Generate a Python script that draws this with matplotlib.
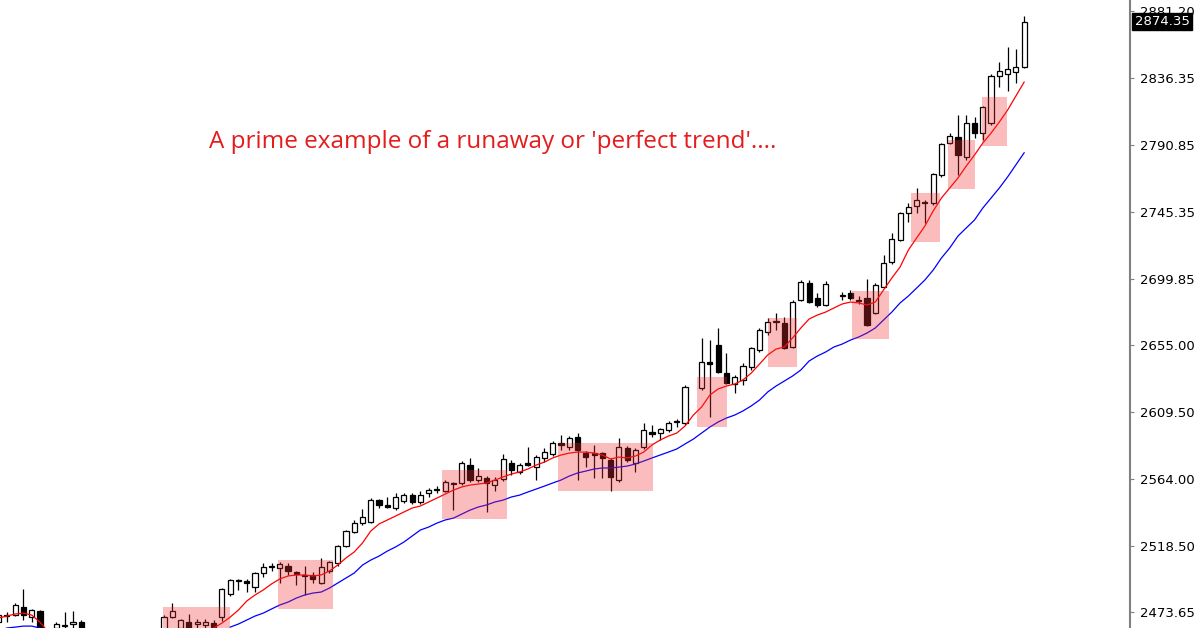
import numpy as np
import matplotlib.pyplot as plt
import matplotlib.transforms as mtransforms
from matplotlib.patches import Rectangle

# OHLC daily bars (None = bar outside the visible window)
N = None
opens = ([2466.8, 2471.6, 2471.6, 2477.0, 2470.2, 2474.3, N, 2462.8, 2464.8, 2465.5, 2466.8] + [N] * 9 +
         [2461.4, 2470.2, 2462.8, 2466.8, 2465.5, 2464.8, 2466.1, 2470.2, 2485.9, 2494.7,
          2494.7, 2490.6, 2500.1, 2504.2, 2503.5, 2504.8, 2500.8, 2498.8, 2498.8, 2493.4,
          2501.5, 2506.9, 2518.4, 2527.9, 2534.0, 2534.7, 2549.6, 2546.3, 2544.2, 2549.0,
          2553.0, 2548.3, 2554.4, 2556.4, 2555.8, 2561.2, 2561.2, 2573.4, 2563.2, 2564.6,
          2559.8, 2563.9, 2574.8, 2568.7, 2574.8, 2572.0, 2578.2, 2580.9, 2588.3, 2585.6,
          2592.4, 2581.5, 2581.5, 2581.5, 2576.8, 2563.2, 2584.9, 2574.8, 2585.6, 2595.8,
          2595.1, 2597.2, 2602.6, 2601.9, N, 2625.7, 2643.3, 2654.8, 2635.8, 2628.4,
          2631.1, 2639.9, 2651.5, 2663.7, 2670.5, 2669.8, 2653.5, 2685.4, 2696.9, 2686.7,
          2682.0, N, 2688.1, 2690.1, 2685.4, 2686.7, 2676.6, 2694.2, 2711.2, 2726.1,
          2744.4, 2749.2, 2751.2, 2751.2, 2770.2, 2791.9, 2796.0, 2782.4, 2805.5, 2798.7,
          2805.5, 2837.4, 2838.8, 2840.1, 2843.5])
highs = ([2472.9, 2473.6, 2479.7, 2489.3, 2475.7, 2475.0, N, 2466.8, 2473.6, 2474.3, 2468.2] + [N] * 9 +
         [2471.6, 2479.7, 2468.9, 2472.3, 2468.9, 2468.9, 2468.2, 2490.0, 2496.1, 2496.1,
          2496.1, 2500.8, 2506.9, 2506.9, 2507.6, 2506.9, 2501.5, 2504.8, 2500.8, 2510.3,
          2508.2, 2519.1, 2529.3, 2536.1, 2543.5, 2551.0, 2550.3, 2551.7, 2554.4, 2554.4,
          2554.4, 2555.8, 2557.8, 2559.1, 2563.2, 2561.9, 2576.1, 2578.2, 2571.4, 2565.9,
          2565.3, 2580.9, 2576.8, 2574.8, 2585.6, 2580.2, 2584.9, 2589.7, 2593.8, 2593.1,
          2595.1, 2582.9, 2587.0, 2582.2, 2578.2, 2591.7, 2586.3, 2584.9, 2601.9, 2600.6,
          2598.5, 2603.3, 2604.6, 2627.7, N, 2659.6, 2658.2, 2666.4, 2649.4, 2634.5,
          2642.6, 2653.5, 2666.4, 2673.2, 2676.6, 2673.9, 2685.4, 2699.0, 2699.0, 2690.1,
          2698.3, N, 2690.8, 2692.2, 2688.1, 2699.7, 2696.9, 2715.9, 2730.9, 2745.1,
          2751.2, 2761.4, 2753.3, 2771.6, 2791.9, 2798.7, 2810.9, 2810.9, 2809.6, 2817.1,
          2838.8, 2846.9, 2857.1, 2855.7, 2878.2])
lows = ([2462.8, 2466.8, 2470.9, 2468.2, 2466.8, 2460.1, N, 2461.4, 2461.4, 2462.8, 2459.4] + [N] * 9 +
        [2460.1, 2469.6, 2461.4, 2461.4, 2462.8, 2462.8, 2462.1, 2467.5, 2484.5, 2488.6,
         2487.3, 2487.3, 2497.4, 2501.5, 2493.4, 2498.8, 2492.0, 2485.2, 2493.4, 2492.7,
         2500.1, 2504.8, 2517.8, 2527.3, 2532.7, 2534.0, 2544.2, 2544.2, 2542.8, 2547.6,
         2546.9, 2546.9, 2551.7, 2554.4, 2555.1, 2542.8, 2559.8, 2561.9, 2561.9, 2541.5,
         2555.8, 2562.5, 2566.6, 2567.3, 2572.7, 2563.2, 2575.4, 2579.5, 2583.6, 2583.6,
         2563.2, 2572.0, 2564.6, 2564.6, 2555.8, 2561.9, 2575.4, 2568.7, 2584.3, 2592.4,
         2590.4, 2595.8, 2599.2, 2600.5, N, 2624.3, 2606.0, 2635.8, 2628.4, 2622.3,
         2627.7, 2637.9, 2650.1, 2661.6, 2665.0, 2652.1, 2652.8, 2684.7, 2683.4, 2680.6,
         2681.3, N, 2685.4, 2685.4, 2683.0, 2667.7, 2675.9, 2693.5, 2709.8, 2725.4,
         2738.3, 2744.4, 2737.6, 2749.9, 2768.9, 2791.3, 2770.2, 2780.4, 2795.3, 2794.0,
         2804.2, 2830.0, 2827.2, 2832.7, 2842.8])
closes = ([2471.6, 2471.2, 2478.4, 2471.6, 2475.0, 2461.4, N, 2465.5, 2464.1, 2466.8, 2461.4] + [N] * 9 +
          [2470.2, 2474.3, 2468.2, 2462.8, 2466.8, 2466.8, 2463.4, 2489.3, 2495.4, 2495.4,
           2493.4, 2500.1, 2504.2, 2504.8, 2506.2, 2501.5, 2499.4, 2498.1, 2496.1, 2504.2,
           2507.6, 2518.4, 2528.6, 2534.0, 2538.1, 2549.6, 2546.3, 2544.9, 2551.7, 2553.0,
           2548.3, 2553.0, 2556.4, 2557.1, 2561.9, 2560.5, 2574.8, 2563.2, 2565.9, 2561.2,
           2563.2, 2577.5, 2570.0, 2573.4, 2573.4, 2578.8, 2582.2, 2588.3, 2587.0, 2591.7,
           2583.6, 2578.8, 2580.2, 2578.2, 2565.3, 2585.6, 2576.8, 2583.6, 2597.2, 2594.4,
           2597.8, 2601.9, 2603.3, 2626.3, N, 2643.3, 2642.0, 2636.5, 2629.1, 2633.1,
           2640.6, 2652.8, 2665.0, 2670.5, 2671.1, 2652.8, 2684.0, 2697.6, 2684.0, 2682.0,
           2696.3, N, 2688.8, 2686.7, 2684.7, 2668.4, 2695.6, 2710.5, 2726.8, 2744.4,
           2748.5, 2753.3, 2751.9, 2770.9, 2791.3, 2796.7, 2783.8, 2805.5, 2798.7, 2816.4,
           2837.4, 2840.8, 2842.2, 2843.5, 2874.35])

# moving averages as drawn on the chart
ma_fast = ([2469.6, 2470.9, 2472.3, 2472.9, 2471.6, 2466.8, 2460.1] + [N] * 19 +
           [2462.8, 2466.1, 2470.2, 2475.0, 2481.1, 2485.2, 2488.6, 2492.7, 2496.1, 2498.1,
            2498.8, 2498.8, 2498.1, 2498.8, 2501.5, 2505.5, 2510.3, 2514.4, 2520.5, 2528.6,
            2533.4, 2536.1, 2538.8, 2541.5, 2544.2, 2545.6, 2548.3, 2551.0, 2553.7, 2556.4,
            2558.5, 2559.8, 2560.5, 2561.2, 2563.2, 2565.3, 2567.3, 2568.7, 2570.7, 2573.4,
            2575.4, 2578.2, 2580.2, 2581.5, 2582.2, 2582.2, 2581.5, 2580.2, 2577.5, 2578.8,
            2578.2, 2579.5, 2582.2, 2587.0, 2590.4, 2593.1, 2595.1, 2599.9, 2607.3, 2612.8,
            2620.9, 2625.0, 2627.0, 2628.4, 2631.1, 2635.8, 2641.9, 2648.1, 2652.1, 2653.5,
            2659.6, 2666.4, 2672.5, 2675.2, 2677.2, 2680.0, 2682.7, 2684.0, 2683.4, 2682.0,
            2684.0, 2692.2, 2700.3, 2707.8, 2719.3, 2727.5, 2735.6, 2745.8, 2754.6, 2761.4,
            2768.2, 2776.3, 2783.8, 2791.9, 2798.7, 2806.2, 2814.3, 2823.8, 2833.3])
ma_slow = ([2460.7, 2462.8, 2463.4, 2464.1, 2464.1, 2462.8, 2459.4] + [N] * 21 +
           [2463.4, 2465.5, 2468.2, 2470.9, 2472.9, 2475.7, 2478.4, 2480.4, 2483.1, 2485.2,
            2486.5, 2487.2, 2489.9, 2493.3, 2496.7, 2500.1, 2505.5, 2508.9, 2511.6, 2515.0,
            2517.8, 2521.1, 2525.2, 2529.3, 2531.3, 2534.0, 2536.1, 2537.4, 2540.1, 2542.8,
            2544.9, 2546.3, 2548.3, 2549.6, 2551.7, 2553.0, 2555.1, 2557.1, 2559.1, 2561.2,
            2563.2, 2565.9, 2568.0, 2569.3, 2570.7, 2571.4, 2571.4, 2572.0, 2572.7, 2574.1,
            2576.1, 2578.2, 2580.2, 2582.2, 2584.3, 2587.7, 2591.0, 2595.1, 2599.2, 2602.6,
            2605.3, 2607.3, 2610.1, 2613.5, 2617.5, 2623.0, 2627.0, 2630.4, 2633.8, 2637.9,
            2644.0, 2647.4, 2650.1, 2653.5, 2655.5, 2658.2, 2660.3, 2663.0, 2666.4, 2671.8,
            2677.2, 2683.4, 2688.1, 2693.5, 2699.0, 2705.7, 2713.9, 2720.7, 2728.8, 2734.3,
            2739.7, 2747.8, 2754.6, 2761.4, 2768.9, 2777.1, 2785.3])

# highlighted pullback zones: bar range and price range
zone_start = [19.9, 33.8, 53.6, 67.6, 84.4, 93.0, 103.2, 110.3, 114.8, 118.9]
zone_end = [28.0, 40.4, 61.5, 79.1, 88.1, 96.5, 107.7, 113.8, 118.1, 121.9]
zone_low = [2455.0, 2475.7, 2536.8, 2555.8, 2599.2, 2639.9, 2658.9, 2724.8, 2760.7, 2789.9]
zone_high = [2477.0, 2508.9, 2570.0, 2588.3, 2633.1, 2673.2, 2691.5, 2758.0, 2794.0, 2823.2]

price_ticks = [2473.65, 2518.50, 2564.00, 2609.50, 2655.00, 2699.85, 2745.35, 2790.85, 2836.35, 2881.20]

o = np.array(opens, dtype=float)
h = np.array(highs, dtype=float)
l = np.array(lows, dtype=float)
c = np.array(closes, dtype=float)
x = np.arange(len(o))

fig = plt.figure(figsize=(12, 6.28), dpi=100)
ax = fig.add_axes([0, 0, 1130 / 1200, 1])

# wicks then bodies
ax.vlines(x, l, h, color='black', linewidth=0.9, zorder=1)
bull = c >= o
body_bot = np.minimum(o, c)
body_h = np.abs(c - o)
ax.bar(x[bull], body_h[bull], bottom=body_bot[bull], width=0.62,
       facecolor='white', edgecolor='black', linewidth=0.9, zorder=2)
ax.bar(x[~bull], body_h[~bull], bottom=body_bot[~bull], width=0.62,
       facecolor='black', edgecolor='black', linewidth=0.9, zorder=2)

ax.plot(x, np.array(ma_fast, dtype=float), color='#ff0000', linewidth=0.9, zorder=3)
ax.plot(x, np.array(ma_slow, dtype=float), color='#0000ff', linewidth=0.9, zorder=3)

for x0, x1, lo, hi in zip(zone_start, zone_end, zone_low, zone_high):
    ax.add_patch(Rectangle((x0, lo), x1 - x0, hi - lo, facecolor='#f03030',
                           alpha=0.32, edgecolor='none', zorder=5))

ax.text(0.436, 0.774, "A prime example of a runaway or 'perfect trend'....",
        transform=ax.transAxes, ha='center', va='center', color='#e41c1c',
        fontsize=17.5, family='Open Sans')

ax.set_xlim(0.17, 136.8)
ax.set_ylim(2462.8, 2889.0)

for s in ['left', 'top', 'bottom']:
    ax.spines[s].set_visible(False)
ax.spines['right'].set_color('#808080')
ax.spines['right'].set_linewidth(1.5)
ax.set_xticks([])
ax.yaxis.tick_right()
ax.set_yticks(price_ticks)
ax.set_yticklabels([f'{p:.2f}' for p in price_ticks])
ax.tick_params(axis='y', direction='out', length=3, width=0.8, color='#808080',
               labelsize=9.5, labelcolor='black', pad=4)

# current price marker, drawn over the top scale label as on the terminal
trans = mtransforms.blended_transform_factory(ax.transAxes, ax.transData)
ax.text(1.004, c[-1], f'{c[-1]:.2f}', transform=trans, ha='left', va='center',
        color='white', fontsize=9.5, clip_on=False, zorder=10,
        bbox=dict(facecolor='black', edgecolor='black', pad=1.5))

fig.savefig('out.png', dpi=100)
